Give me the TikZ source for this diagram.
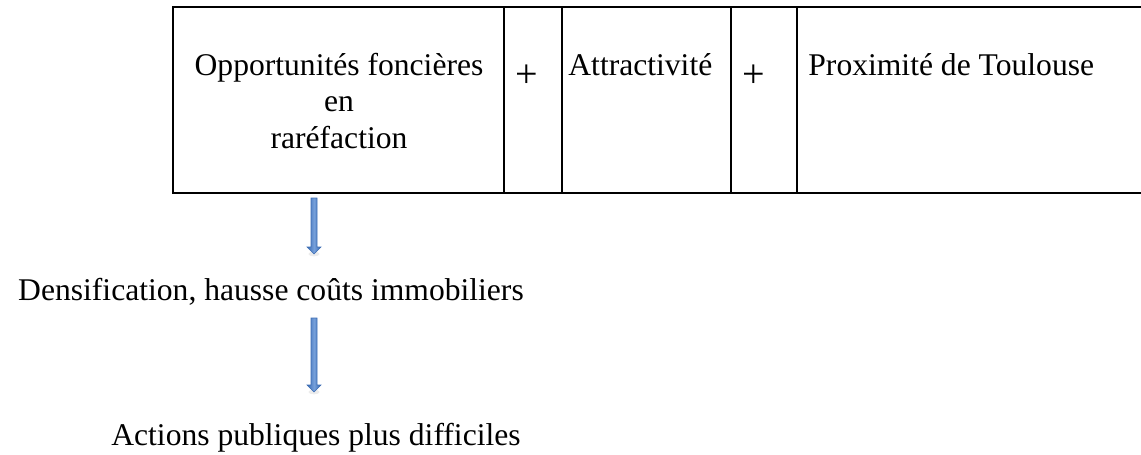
\documentclass[tikz,border=0pt]{standalone}
\usepackage{fontspec}
\setmainfont{Liberation Serif}
\usetikzlibrary{calc}
\definecolor{arrowdark}{RGB}{55,105,178}
\definecolor{arrowlight}{RGB}{118,160,218}
\definecolor{arrowedge}{RGB}{62,110,180}
\tikzset{
  tbl/.style={line width=1pt, black},
  txt/.style={inner sep=0pt, font=\fontsize{15.8}{18.25}\selectfont},
  plussign/.style={inner sep=0pt, font=\fontsize{20}{22}\selectfont},
  arrowshade/.style={left color=arrowdark, right color=arrowdark, middle color=arrowlight, draw=arrowedge, line width=0.3pt},
  arrowshadow/.style={fill=gray, opacity=0.15}
}
\newcommand\blockarrow[2]{%
  \fill[arrowshadow] ($(#2)+(0,0)$) ellipse (2.8pt and 1.2pt);
  \path[arrowshade] let \p1=(#1), \p2=(#2) in
    (\x1-1.5pt,\y1) -- (\x1+1.5pt,\y1) -- (\x1+1.5pt,\y2+3.5pt) -- (\x1+3.5pt,\y2+3.5pt)
    -- (\x2,\y2) -- (\x1-3.5pt,\y2+3.5pt) -- (\x1-1.5pt,\y2+3.5pt) -- cycle;
}
\begin{document}
\begin{tikzpicture}[x=0.5pt,y=-0.5pt]
\useasboundingbox (0,0) rectangle (1141,455);
% table
\draw[tbl] (172,7) -- (1141,7);
\draw[tbl] (172,193) -- (1141,193);
\foreach \cx in {173,504,562,731,797} {
  \draw[tbl] (\cx,7) -- (\cx,193);
}
% cell texts
\node[txt, anchor=base, align=center] (opp) at (339,148) {Opportunités foncières\\en\\raréfaction};
\node[plussign] (plus1) at (527,76) {+};
\node[txt, anchor=base west] (attr) at (568,75) {Attractivité};
\node[plussign] (plus2) at (754,76) {+};
\node[txt, anchor=base west] (prox) at (808,75) {Proximité de Toulouse};
% lower texts
\node[txt, anchor=base] (dens) at (271,300) {Densification, hausse coûts immobiliers};
\node[txt, anchor=base] (act) at (316,445) {Actions publiques plus difficiles};
% arrows
\coordinate (a1s) at (314,198);
\coordinate (a1e) at (314,254);
\coordinate (a2s) at (314,318);
\coordinate (a2e) at (314,392);
\blockarrow{a1s}{a1e}
\blockarrow{a2s}{a2e}
\end{tikzpicture}
\end{document}
